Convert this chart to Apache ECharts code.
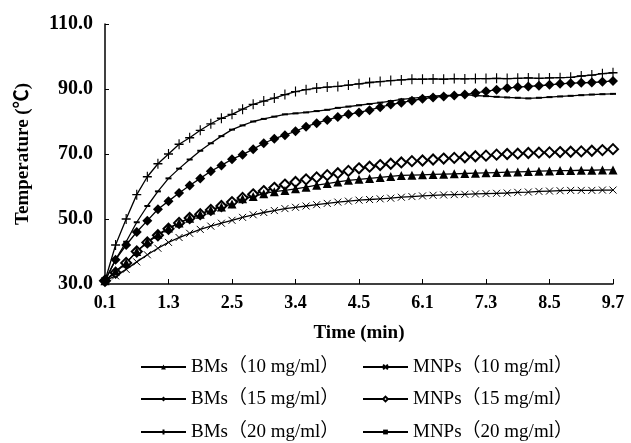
<!DOCTYPE html>
<html>
<head>
<meta charset="utf-8">
<script src="https://cdn.jsdelivr.net/npm/echarts@6/dist/echarts.min.js"></script>
<style>html,body{margin:0;padding:0;background:#fff}#c{width:631px;height:443px}</style>
</head>
<body>
<div id="c"></div>
<script>
// Time (min) categories – labelled every 6th sample
const times = ['0.1','0.3','0.5','0.7','0.9','1.1','1.3','1.5','1.7','1.9','2.1','2.3','2.5','2.7','2.8','3.0','3.1','3.3','3.4','3.6','3.8','4.0','4.1','4.3','4.5','4.8','5.0','5.3','5.6','5.8','6.1','6.3','6.5','6.7','6.9','7.1','7.3','7.5','7.7','7.9','8.1','8.3','8.5','8.7','8.9','9.1','9.3','9.5','9.7'];
const yTicks = [30, 50, 70, 90, 110];

const bms10 = [31,34,36.5,40,43,45.3,47.2,48.8,50.2,51.5,52.8,53.7,54.6,56.2,56.9,57.8,58.4,58.8,59.3,59.8,60.4,60.9,61.4,61.9,62.2,62.5,62.8,63.1,63.4,63.5,63.6,63.7,63.8,63.9,64,64.1,64.2,64.3,64.4,64.5,64.6,64.7,64.8,64.9,64.9,65,65,65.1,65.1];
const bms15 = [31,37.5,42,46,49.5,53,55.5,58,60.3,62.5,64.7,66.5,68.4,69.8,71.5,73.3,74.7,75.8,77,78.4,79.5,80.5,81.4,82.2,82.8,83.5,84.4,85.2,85.8,86.4,87,87.4,87.7,88,88.3,88.8,89.3,89.8,90.3,90.6,90.8,91,91.3,91.6,91.8,91.9,92,92.2,92.5];
const bms20 = [31,42,50,57.5,63,67,70,73,75,77.3,79.3,81,82.2,83.8,85.3,86.3,87.2,88.3,89.2,89.8,90.3,90.6,90.8,91.2,91.6,92,92.3,92.6,92.8,93,93,93.1,93,93.2,93.1,93.2,93.2,93.3,93.2,93.3,93.4,93.3,93.4,93.5,93.6,94,94.3,94.7,95];
const mnp10 = [31,32.5,34.5,36.8,39,41,42.8,44.3,45.6,46.8,47.8,48.7,49.6,50.5,51.3,52,52.6,53.2,53.6,54,54.4,54.8,55.2,55.5,55.8,56,56.2,56.4,56.7,56.9,57.1,57.3,57.4,57.5,57.6,57.7,57.8,57.9,58,58.2,58.3,58.5,58.6,58.7,58.8,58.8,58.8,58.9,58.9];
const mnp15 = [31,33.5,36.5,40,42.8,45,47,48.8,50.3,51.5,52.8,54,55.2,56.5,57.6,58.6,59.6,60.6,61.4,62.2,62.8,63.5,64.1,64.8,65.6,66.1,66.6,67,67.4,67.8,68,68.3,68.6,68.8,69,69.3,69.5,69.8,70,70.1,70.3,70.4,70.5,70.6,70.7,70.8,71,71.2,71.5];
const mnp20 = [31,37.5,43,49,54,58.5,62.5,65.5,68.3,71,73.3,75.5,77.5,78.8,80,80.8,81.5,82.2,82.5,82.8,83.2,83.6,84.2,84.6,85,85.4,85.8,86.3,86.8,87.1,87.5,87.8,88,88.1,88.3,88,87.8,87.6,87.4,87.3,87.1,87.3,87.5,87.7,87.9,88.1,88.3,88.4,88.5];

const names = ['BMs（10 mg/ml）','BMs（15 mg/ml）','BMs（20 mg/ml）','MNPs（10 mg/ml）','MNPs（15 mg/ml）','MNPs（20 mg/ml）'];
const serif = "'Liberation Serif','Noto Sans CJK SC',serif";

function mk(name, data, symbol, size, fill, bw) {
  return {
    name: name, type: 'line', data: data, symbol: symbol, symbolSize: size,
    showAllSymbol: true, animation: false,
    lineStyle: { color: '#000', width: 1.3 },
    itemStyle: { color: fill, borderColor: '#000', borderWidth: bw }
  };
}

const legendCols = [140, 362];
const legendRows = [367, 399, 432];
const legends = [];
for (let k = 0; k < 6; k++) {
  const col = k < 3 ? 0 : 1, row = k % 3;
  legends.push({
    data: [names[k]], left: legendCols[col], top: legendRows[row] - 10,
    itemWidth: 45, itemHeight: 6, itemGap: 5, padding: 0,
    textStyle: { fontFamily: serif, fontSize: 19, color: '#000', lineHeight: 20 }
  });
}

const chart = echarts.init(document.getElementById('c'));
chart.setOption({
  backgroundColor: '#fff',
  grid: { left: 105, right: 18, top: 24, bottom: 159 },
  xAxis: {
    type: 'category', data: times, boundaryGap: false,
    name: 'Time (min)', nameLocation: 'middle', nameGap: 40,
    nameTextStyle: { fontFamily: serif, fontWeight: 'bold', fontSize: 19, color: '#000' },
    axisLine: { lineStyle: { color: '#000', width: 1.5 } },
    axisTick: { inside: true, length: 5, interval: 5, lineStyle: { color: '#000' } },
    axisLabel: { interval: 5, fontFamily: serif, fontWeight: 'bold', fontSize: 18, color: '#000', margin: 10 },
    splitLine: { show: false }
  },
  yAxis: {
    type: 'value', min: yTicks[0], max: yTicks[yTicks.length - 1], interval: 20,
    name: 'Temperature (℃)', nameLocation: 'middle', nameGap: 72, nameRotate: 90,
    nameTextStyle: { fontFamily: serif, fontWeight: 'bold', fontSize: 19, color: '#000' },
    axisLine: { show: true, lineStyle: { color: '#000', width: 1.5 } },
    axisTick: { show: true, inside: true, length: 4, lineStyle: { color: '#000' } },
    axisLabel: { formatter: v => v.toFixed(1), fontFamily: serif, fontWeight: 'bold', fontSize: 20, color: '#000', margin: 12 },
    splitLine: { show: false }
  },
  legend: legends,
  series: [
    mk(names[3], mnp10, 'path://M0,0L10,10M10,0L0,10', 7, '#000', 1),
    mk(names[4], mnp15, 'emptyDiamond', 10, '#000', 1),
    mk(names[5], mnp20, 'rect', [6, 2], '#000', 0),
    mk(names[0], bms10, 'triangle', 9, '#000', 0),
    mk(names[1], bms15, 'diamond', 10, '#000', 0),
    mk(names[2], bms20, 'path://M5,0L5,10M0,5L10,5', [9, 10], '#000', 1.2)
  ]
});
</script>
</body>
</html>
